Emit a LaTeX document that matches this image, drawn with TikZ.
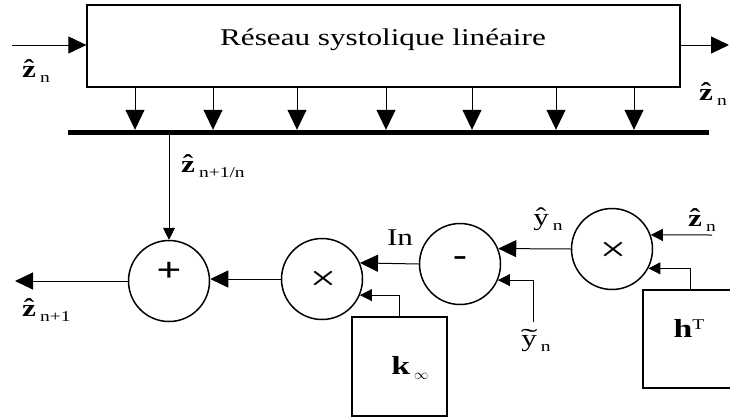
\documentclass[tikz,border=0pt]{standalone}
\usepackage{fontspec}
\setmainfont{Liberation Serif}[FakeStretch=1.3]
\usetikzlibrary{arrows.meta}
\newcommand\acc[2]{\ooalign{#2\cr\hidewidth\raisebox{1pt}{#1}\hidewidth\cr}}
\newcommand\zh{\textbf{\acc{ˆ}{z}}}
\newcommand\sbt[1]{\hspace{4pt}\raisebox{-5pt}{\fontsize{15}{16}\selectfont #1}}
\begin{document}
\begin{tikzpicture}[x=1pt,y=-1pt,
  toparr/.style={-{Triangle[length=20pt,width=19pt]}, line width=1pt},
  bigarr/.style={-{Triangle[length=18pt,width=17pt]}, line width=1pt},
  smallarr/.style={-{Triangle[length=12pt,width=12pt]}, line width=1pt},
  op/.style={circle, draw, line width=1.5pt, minimum size=81pt, inner sep=0pt},
  blk/.style={draw, line width=1.3pt, inner sep=0pt},
  lbl/.style={inner sep=0pt, font=\fontsize{24}{28}\selectfont},
  sym/.style={inner sep=0pt, font=\fontsize{36}{38}\selectfont}
]
\useasboundingbox (0,0) rectangle (730,418);
\clip (0,0) rectangle (730,418);

% blocks
\node[blk, minimum width=593pt, minimum height=82pt] (sys) at (383.5,46) {};
\node[lbl] (systxt) at (383,40) {Réseau systolique linéaire};
\node[fill, inner sep=0pt, minimum width=641pt, minimum height=5pt] (bar) at (388.5,132.5) {};
\node[blk, minimum width=95pt, minimum height=99pt] (kbox) at (399.5,366.5) {};
\node[blk, minimum width=100pt, minimum height=98pt] (hbox) at (693,339) {};

% operators
\node[op] (plus) at (169,281) {};
\node[op] (mulk) at (322,279) {};
\node[op] (minus) at (460,264) {};
\node[op] (mulh) at (612,249) {};
\node[sym, font=\fontsize{34}{36}\selectfont\bfseries] (plussym) at (169,272) {+};
\node[sym] (mulksym) at (323,281) {×};
\node[sym, font=\fontsize{32}{34}\selectfont\bfseries] (minussym) at (460,261) {-};
\node[sym] (mulhsym) at (613,252) {×};

% connectors
\coordinate (zin) at (12,45);
\draw[bigarr] (zin) -- (zin -| sys.west);
\coordinate (zout) at (729,45);
\draw[bigarr] (zout -| sys.east) -- (zout);
\foreach \x in {135,213,297,386,472,556,634} {
  \coordinate (tap) at (\x,0);
  \draw[toparr] (sys.south -| tap) -- (bar.north -| tap);
}
\draw[smallarr] (bar.south -| plus.north) -- (plus.north);
\coordinate (outp) at (15,281);
\draw[bigarr] (plus.west) -- (outp);
\draw[bigarr] (mulk.west) -- (mulk.west -| plus.east);
\draw[bigarr] (minus.west) -- (mulk.23);
\draw[bigarr] (mulh.west) -- (minus.22);
\draw[smallarr] (kbox.north) |- (mulk.-23);
\coordinate (ytin) at (533,322);
\draw[smallarr] (ytin) |- (minus.-23);
\coordinate (zin2) at (712,235);
\draw[smallarr] (zin2) -- (mulh.20);
\coordinate (hup) at (690,0);
\draw[smallarr] (hbox.north -| hup) |- (mulh.-28);

% labels
\node[lbl] (lzl) at (36,74) {\zh\sbt{n}};
\node[lbl] (lzr) at (713,97) {\zh\sbt{n}};
\node[lbl, anchor=west] (lzp) at (181,170) {\zh\sbt{n+1/n}};
\node[lbl, anchor=west] (lzo) at (22,313) {\zh\sbt{n+1}};
\node[lbl] (lyh) at (548,222) {\acc{ˆ}{y}\sbt{n}};
\node[lbl] (lz2) at (702,223) {\zh\sbt{n}};
\node[lbl] (lin) at (400,238) {In};
\node[lbl] (lyt) at (536,343) {\acc{\scalebox{1.6}[1]{˜}}{y}\sbt{n}};
\node[lbl] (lk) at (410,368) {\fontsize{26}{28}\selectfont\textbf{k}\sbt{$\infty$}};
\node[lbl] (lh) at (689,328) {\fontsize{26}{28}\selectfont\textbf{h}\raisebox{8pt}{\fontsize{15}{16}\selectfont T}};
\end{tikzpicture}
\end{document}
